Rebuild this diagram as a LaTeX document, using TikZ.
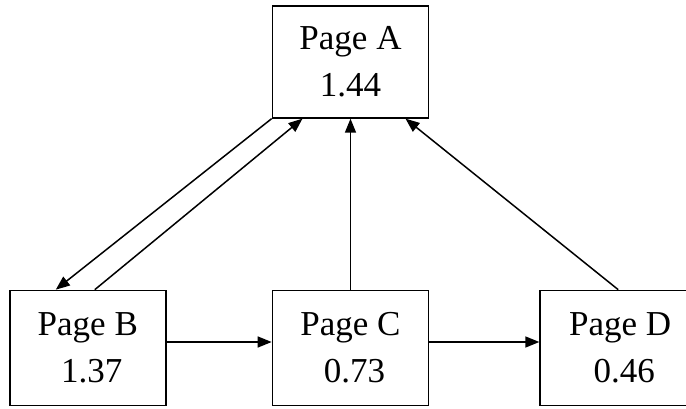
\documentclass[tikz,border=0pt]{standalone}
\usepackage{fontspec}
\setmainfont{Liberation Serif}
\usetikzlibrary{arrows.meta, positioning}
\tikzset{page/.style={draw, line width=1.7pt, minimum width=156pt, minimum height=115pt,
    inner sep=0pt, align=center, font=\fontsize{35}{47}\selectfont}}

\begin{document}
\begin{tikzpicture}[x=1pt, y=1pt, line width=1.5pt, >={Triangle[length=14pt,width=11pt]}]
    \useasboundingbox (0,0) rectangle (686,408);
    \clip (0,0) rectangle (686,408);

      \node[page] (c) at (350.5,60) {Page C\\\hspace{8pt}0.73};
      \node[page, left=105pt of c] (b) {Page B\\\hspace{8pt}1.37};
      \node[page, right=110pt of c, minimum width=160pt] (d) {Page D\\\hspace{8pt}0.46};
      \node[page, above=171pt of c, minimum height=112pt] (a) {Page A\\1.44};

      \draw[->] (a.south west) -- ([xshift=-32pt]b.north);
      \draw[->] ([xshift=7pt]b.north) -- ([xshift=-48pt]a.south);
      \draw[->] (c.north) -- (a.south);
      \draw[->] ([xshift=-2pt]d.north) -- ([xshift=55pt]a.south);

      \draw[->] ([yshift=6pt]b.east) -- ([yshift=6pt]c.west);
      \draw[->] ([yshift=6pt]c.east) -- ([yshift=6pt]d.west);
  \end{tikzpicture}
\end{document}
